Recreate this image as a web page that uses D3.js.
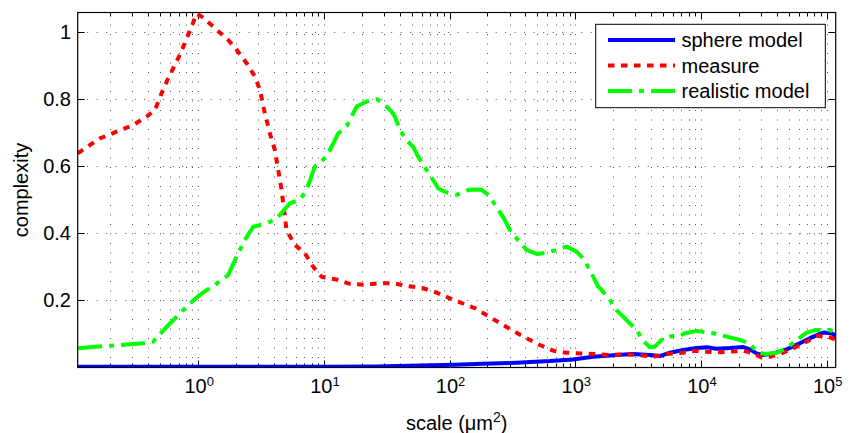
<!DOCTYPE html>
<html>
<head>
<meta charset="utf-8">
<script src="https://cdn.jsdelivr.net/npm/d3@7"></script>
<style>
html, body { margin: 0; padding: 0; background: #fff; }
svg { display: block; font-family: "Liberation Sans", Arial, Helvetica, sans-serif; }
</style>
</head>
<body>
<div id="chart"></div>
<script>
// values (x in µm², y = complexity)
const sphereX = [0.11, 10, 25.5, 110, 184, 341, 628, 957, 1387, 2131, 2890, 3925, 4714, 5662, 7216,
    9225, 11090, 13310, 16980, 21670, 24490, 27680, 31260, 37510, 47970, 61240, 78120, 93800, 109400, 117700];
const sphereY = [0.002, 0.002, 0.003, 0.008, 0.011, 0.014, 0.019, 0.024, 0.032, 0.037, 0.040, 0.037, 0.034, 0.044, 0.052,
    0.058, 0.060, 0.056, 0.058, 0.061, 0.054, 0.042, 0.037, 0.042, 0.054, 0.072, 0.092, 0.104, 0.102, 0.094];

const measureX = [0.11, 0.165, 0.224, 0.304, 0.389, 0.453, 0.512, 0.561, 0.633, 0.715, 0.809, 0.886, 0.971, 1.064, 1.316,
    1.733, 2.02, 2.43, 2.83, 3.10, 3.39, 3.72, 4.07, 4.61, 4.74, 5.05, 5.88, 7.06, 8.22, 9.59,
    12.6, 16.1, 21.2, 27.9, 35.6, 45.5, 61.7, 78.8, 100.5, 162, 263, 331, 410, 523, 667,
    853, 1122, 1477, 1884, 2483, 3265, 4168, 5325, 7216, 9225, 11090, 13310, 16980, 21670, 26020,
    30340, 35330, 42440, 54160, 69150, 83110, 99800, 116200];
const measureY = [0.638, 0.682, 0.702, 0.722, 0.747, 0.767, 0.817, 0.851, 0.891, 0.931, 0.980, 1.015, 1.053, 1.045, 1.015,
    0.975, 0.946, 0.906, 0.866, 0.826, 0.757, 0.697, 0.648, 0.529, 0.489, 0.409, 0.365, 0.340, 0.300, 0.270,
    0.262, 0.249, 0.246, 0.251, 0.251, 0.243, 0.236, 0.223, 0.206, 0.175, 0.128, 0.106, 0.087, 0.067, 0.050,
    0.044, 0.042, 0.040, 0.037, 0.039, 0.037, 0.032, 0.040, 0.044, 0.050, 0.047, 0.045, 0.047, 0.050, 0.042,
    0.030, 0.032, 0.040, 0.057, 0.077, 0.094, 0.094, 0.084];

const realX = [0.111, 0.199, 0.365, 0.439, 0.561, 0.715, 0.859, 1.03, 1.40, 1.73, 2.02, 2.35, 2.74, 3.50, 4.21,
    5.37, 6.44, 7.28, 8.48, 10.5, 11.5, 13.0, 15.2, 16.6, 18.2, 21.9, 26.3, 29.6, 34.6, 36.7,
    40.2, 45.5, 51.3, 56.2, 65.6, 74.1, 81.2, 94.6, 114, 145, 180, 203, 236, 275, 302,
    341, 410, 492, 591, 710, 853, 1024, 1156, 1307, 1521, 1619, 1884, 2131, 2559, 3074,
    3469, 3925, 4298, 5004, 6008, 6787, 7442, 9225, 12500, 15990, 20410, 24490, 27680, 32240, 39910,
    47970, 57670, 69150, 83110, 106000, 117700];
const realY = [0.057, 0.065, 0.072, 0.077, 0.121, 0.161, 0.191, 0.216, 0.250, 0.275, 0.330, 0.380, 0.419, 0.429, 0.444,
    0.489, 0.499, 0.529, 0.598, 0.628, 0.657, 0.697, 0.719, 0.747, 0.777, 0.792, 0.799, 0.787, 0.762, 0.747,
    0.707, 0.677, 0.657, 0.628, 0.588, 0.558, 0.533, 0.521, 0.514, 0.530, 0.529, 0.514, 0.479, 0.439, 0.409,
    0.385, 0.350, 0.338, 0.342, 0.350, 0.360, 0.345, 0.325, 0.290, 0.241, 0.231, 0.201, 0.171, 0.141, 0.111,
    0.080, 0.060, 0.062, 0.087, 0.094, 0.094, 0.102, 0.109, 0.102, 0.092, 0.082, 0.072, 0.047, 0.040, 0.044,
    0.057, 0.082, 0.104, 0.112, 0.112, 0.104];

const xMajorTicks = [1, 10, 100, 1000, 10000, 100000];
const xTickExp = ['0', '1', '2', '3', '4', '5'];
const yTicks = [0.2, 0.4, 0.6, 0.8, 1];
const yTickLabels = ['0.2', '0.4', '0.6', '0.8', '1'];
const seriesNames = ['sphere model', 'measure', 'realistic model'];

const COLOR_SPHERE = '#0000ff';
const COLOR_MEASURE = '#ff0000';
const COLOR_REAL = '#00ff00';
const COLOR_GRID = '#555';

const W = 851, H = 433;
const margin = { top: 12.5, right: 15.3, bottom: 65.5, left: 77.7 };

const svg = d3.select('#chart').append('svg')
    .attr('width', W)
    .attr('height', H);

const x = d3.scaleLog()
    .domain([0.11, 118000])
    .range([margin.left, W - margin.right]);
const y = d3.scaleLinear()
    .domain([0, 1.057])
    .range([H - margin.bottom, margin.top]);

const x0 = x.range()[0], x1 = x.range()[1];
const y0 = y.range()[0], y1 = y.range()[1];

// all log ticks (1..9 per decade) for minor grid and ticks
const xAllTicks = x.ticks().filter(v => v > x.domain()[0] && v < x.domain()[1]);

// dotted grid
const grid = svg.append('g');
grid.selectAll('line.vg')
    .data(xAllTicks)
    .join('line')
    .attr('x1', d => Math.round(x(d)) + 0.5).attr('x2', d => Math.round(x(d)) + 0.5)
    .attr('y1', y0).attr('y2', y1)
    .attr('stroke', COLOR_GRID).attr('stroke-width', 1)
    .attr('stroke-dasharray', '1 8.5');
grid.selectAll('line.hg')
    .data(yTicks)
    .join('line')
    .attr('x1', x0).attr('x2', x1)
    .attr('y1', d => Math.round(y(d)) + 0.5).attr('y2', d => Math.round(y(d)) + 0.5)
    .attr('stroke', COLOR_GRID).attr('stroke-width', 1)
    .attr('stroke-dasharray', '1 8.5');

// ticks (inside, on all four sides)
const ticks = svg.append('g').attr('stroke', '#000').attr('stroke-width', 1);
xAllTicks.forEach(v => {
    const major = xMajorTicks.includes(v);
    const len = major ? 7 : 4;
    const px = Math.round(x(v)) + 0.5;
    ticks.append('line').attr('x1', px).attr('x2', px).attr('y1', y0).attr('y2', y0 - len);
    ticks.append('line').attr('x1', px).attr('x2', px).attr('y1', y1).attr('y2', y1 + len);
});
yTicks.forEach(v => {
    const py = Math.round(y(v)) + 0.5;
    ticks.append('line').attr('x1', x0).attr('x2', x0 + 7).attr('y1', py).attr('y2', py);
    ticks.append('line').attr('x1', x1).attr('x2', x1 - 7).attr('y1', py).attr('y2', py);
});

// tick labels
const xl = svg.append('g').attr('font-size', 20).attr('fill', '#000');
xMajorTicks.forEach((v, i) => {
    const t = xl.append('text')
        .attr('x', x(v) + 1)
        .attr('y', 393)
        .attr('text-anchor', 'middle');
    t.append('tspan').text('10');
    t.append('tspan').attr('font-size', 13).attr('dy', -7).text(xTickExp[i]);
});
svg.append('g').attr('font-size', 20).attr('fill', '#000')
    .selectAll('text')
    .data(yTicks)
    .join('text')
    .attr('x', 71)
    .attr('y', d => y(d) + 7)
    .attr('text-anchor', 'end')
    .text((d, i) => yTickLabels[i]);

// axis labels
const xlab = svg.append('text')
    .attr('x', (x0 + x1) / 2)
    .attr('y', 430)
    .attr('font-size', 20)
    .attr('text-anchor', 'middle');
xlab.append('tspan').text('scale (\u03bcm');
xlab.append('tspan').attr('font-size', 14).attr('dy', -8).text('2');
xlab.append('tspan').attr('dy', 8).text(')');

svg.append('text')
    .attr('transform', `translate(28,${(y0 + y1) / 2}) rotate(-90)`)
    .attr('font-size', 20)
    .attr('text-anchor', 'middle')
    .text('complexity');

// curves
svg.append('defs').append('clipPath').attr('id', 'plot-clip')
    .append('rect').attr('x', x0).attr('y', y1).attr('width', x1 - x0).attr('height', y0 - y1);

const line = d3.line()
    .x(d => x(d[0]))
    .y(d => y(d[1]));

const plot = svg.append('g').attr('clip-path', 'url(#plot-clip)');
const series = [
    { xs: sphereX, ys: sphereY, color: COLOR_SPHERE, dash: null },
    { xs: measureX, ys: measureY, color: COLOR_MEASURE, dash: '6.5 6.5' },
    { xs: realX, ys: realY, color: COLOR_REAL, dash: '24 7 5 7' }
];
series.forEach(s => {
    plot.append('path')
        .datum(s.xs.map((v, i) => [v, s.ys[i]]))
        .attr('fill', 'none')
        .attr('stroke', s.color)
        .attr('stroke-width', 4)
        .attr('stroke-linejoin', 'round')
        .attr('stroke-dasharray', s.dash)
        .attr('d', line);
});

// axes box
svg.append('rect')
    .attr('x', x0).attr('y', y1)
    .attr('width', x1 - x0).attr('height', y0 - y1)
    .attr('fill', 'none').attr('stroke', '#000').attr('stroke-width', 1.2);

// legend
const lg = svg.append('g');
lg.append('rect')
    .attr('x', 595.7).attr('y', 24.3)
    .attr('width', 229.6).attr('height', 83.4)
    .attr('fill', '#fff').attr('stroke', '#000').attr('stroke-width', 1);
const rowY = [40, 65.5, 91];
series.forEach((s, i) => {
    lg.append('line')
        .attr('x1', 608).attr('x2', 675)
        .attr('y1', rowY[i]).attr('y2', rowY[i])
        .attr('stroke', s.color).attr('stroke-width', 4)
        .attr('stroke-dasharray', s.dash);
    lg.append('text')
        .attr('x', 681.5).attr('y', rowY[i] + 7)
        .attr('font-size', 20)
        .text(seriesNames[i]);
});
</script>
</body>
</html>
